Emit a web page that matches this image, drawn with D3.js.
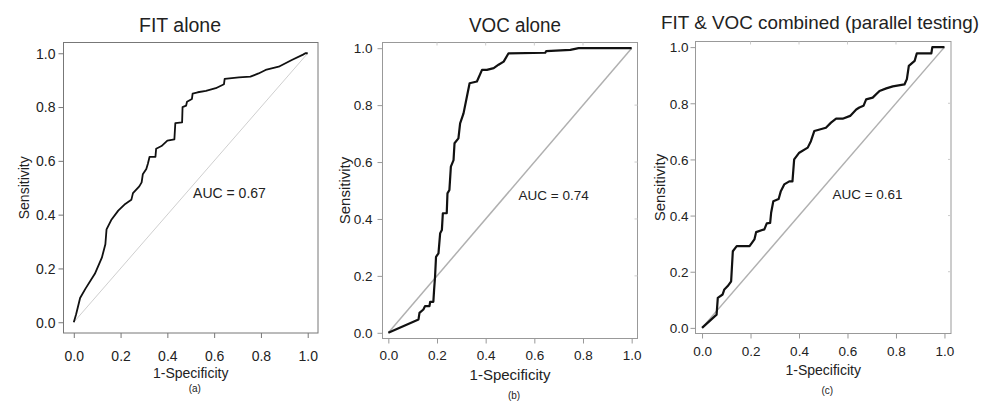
<!DOCTYPE html>
<html>
<head>
<meta charset="utf-8">
<script src="https://cdn.jsdelivr.net/npm/d3@7"></script>
<style>
  body { margin: 0; background: #fff; }
  svg text { font-family: "Liberation Sans", Arial, sans-serif; fill: #222; }
</style>
</head>
<body>
<svg id="chart" width="992" height="401"></svg>
<script>
/// Data

var tickValues = [0, 0.2, 0.4, 0.6, 0.8, 1.0];
var titles = ["FIT alone", "VOC alone", "FIT & VOC combined (parallel testing)"];
var aucLabels = ["AUC = 0.67", "AUC = 0.74", "AUC = 0.61"];
var panelTags = ["(a)", "(b)", "(c)"];

// FIT alone
var fitX = [0, 0.01, 0.027, 0.05, 0.09, 0.12, 0.135, 0.14, 0.16, 0.19, 0.22, 0.246, 0.253, 0.28, 0.29, 0.295, 0.31, 0.317,
  0.324, 0.349, 0.352, 0.375, 0.40, 0.43, 0.434, 0.463, 0.465, 0.48, 0.484, 0.505, 0.508, 0.53, 0.565, 0.607, 0.642, 0.645,
  0.706, 0.755, 0.79, 0.82, 0.876, 0.932, 0.98, 0.99, 1.0];
var fitY = [0, 0.03, 0.09, 0.125, 0.18, 0.24, 0.29, 0.345, 0.38, 0.415, 0.44, 0.455, 0.48, 0.505, 0.52, 0.55, 0.57, 0.59,
  0.615, 0.615, 0.645, 0.655, 0.675, 0.68, 0.74, 0.743, 0.80, 0.805, 0.82, 0.83, 0.85, 0.855, 0.86, 0.87, 0.885, 0.905,
  0.91, 0.913, 0.925, 0.938, 0.95, 0.975, 0.995, 1.0, 1.0];

// VOC alone
var vocX = [0, 0.124, 0.128, 0.144, 0.151, 0.169, 0.172, 0.185, 0.188, 0.192, 0.196, 0.206, 0.213, 0.22, 0.224, 0.24,
  0.243, 0.251, 0.257, 0.268, 0.272, 0.288, 0.295, 0.309, 0.323, 0.334, 0.364, 0.385, 0.405, 0.433, 0.453, 0.474, 0.494,
  0.645, 0.649, 0.748, 0.782, 1.0];
var vocY = [0, 0.047, 0.07, 0.082, 0.094, 0.094, 0.109, 0.109, 0.15, 0.197, 0.267, 0.279, 0.35, 0.361, 0.42, 0.42,
  0.49, 0.502, 0.584, 0.607, 0.666, 0.683, 0.736, 0.771, 0.83, 0.877, 0.883, 0.924, 0.924, 0.93, 0.942, 0.953, 0.982,
  0.984, 0.99, 0.994, 1.0, 1.0];

// FIT & VOC combined
var combX = [0, 0.06, 0.065, 0.085, 0.092, 0.106, 0.12, 0.127, 0.143, 0.196, 0.216, 0.223, 0.257, 0.267, 0.281, 0.285,
  0.294, 0.316, 0.325, 0.339, 0.36, 0.373, 0.38, 0.401, 0.436, 0.449, 0.463, 0.511, 0.532, 0.553, 0.58, 0.611, 0.636,
  0.649, 0.666, 0.677, 0.704, 0.732, 0.76, 0.787, 0.835, 0.845, 0.853, 0.877, 0.886, 0.946, 0.95, 1.0];
var combY = [0, 0.047, 0.107, 0.119, 0.137, 0.149, 0.166, 0.273, 0.291, 0.291, 0.315, 0.341, 0.351, 0.372, 0.374, 0.41,
  0.451, 0.459, 0.487, 0.511, 0.522, 0.522, 0.6, 0.624, 0.642, 0.665, 0.701, 0.713, 0.731, 0.745, 0.745, 0.755, 0.778,
  0.785, 0.791, 0.814, 0.82, 0.844, 0.853, 0.86, 0.867, 0.886, 0.933, 0.951, 0.978, 0.978, 1.0, 1.0];

var seriesX = [fitX, vocX, combX];
var seriesY = [fitY, vocY, combY];

/// Layout of the three panels

var panels = [
  { left: 63.5, top: 42.5, right: 318, bottom: 333, padX: 0.044, padY: 0.04,
    titleX: 180, titleY: 32, titleSize: 20, titleLen: 82,
    frame: "#777", diag: "#cfcfcf", diagW: 1, lineW: 1.8, innerTicks: false,
    yLabGap: 8, xLabY: 357, xTitleY: 378, xTitleSize: 14, yTitleX: 29, yTitleSize: 14,
    aucX: 0.51, aucY: 0.48, aucSize: 14, tagY: 392, tickSize: 14 },
  { left: 382.5, top: 42.5, right: 637.5, bottom: 338.5, padX: 0.024, padY: 0.02,
    titleX: 515, titleY: 32, titleSize: 20, titleLen: 92,
    frame: "#999", diag: "#b0b0b0", diagW: 1.5, lineW: 2.2, innerTicks: true,
    yLabGap: 10, xLabY: 356, xTitleY: 380, xTitleSize: 15, yTitleX: 350, yTitleSize: 15,
    aucX: 0.535, aucY: 0.484, aucSize: 13.5, tagY: 399, tickSize: 13.5 },
  { left: 695.5, top: 41.5, right: 951, bottom: 333.5, padX: 0.027, padY: 0.02,
    titleX: 820, titleY: 29, titleSize: 19, titleLen: 318,
    frame: "#999", diag: "#b0b0b0", diagW: 1.5, lineW: 2.2, innerTicks: true,
    yLabGap: 7, xLabY: 352, xTitleY: 375, xTitleSize: 14, yTitleX: 665, yTitleSize: 15,
    aucX: 0.538, aucY: 0.475, aucSize: 13.5, tagY: 394, tickSize: 13.5 }
];

var svg = d3.select("#chart");
var fmt = d3.format(".1f");

panels.forEach(function (p, i) {
  var x = d3.scaleLinear().domain([-p.padX, 1 + p.padX]).range([p.left, p.right]);
  var y = d3.scaleLinear().domain([-p.padY, 1 + p.padY]).range([p.bottom, p.top]);
  var g = svg.append("g");

  // diagonal reference line
  g.append("line")
    .attr("x1", x(0)).attr("y1", y(0))
    .attr("x2", x(1)).attr("y2", y(1))
    .attr("stroke", p.diag).attr("stroke-width", p.diagW);

  // ROC curve
  var pts = d3.zip(seriesX[i], seriesY[i]);
  var line = d3.line().x(function (d) { return x(d[0]); }).y(function (d) { return y(d[1]); });
  g.append("path")
    .attr("d", line(pts))
    .attr("fill", "none")
    .attr("stroke", "#111")
    .attr("stroke-width", p.lineW)
    .attr("stroke-linejoin", "round");

  // frame
  g.append("rect")
    .attr("x", p.left).attr("y", p.top)
    .attr("width", p.right - p.left).attr("height", p.bottom - p.top)
    .attr("fill", "none").attr("stroke", p.frame).attr("stroke-width", 1);

  // axes
  var xAxis = d3.axisBottom(x).tickValues(tickValues).tickSize(5).tickFormat(fmt);
  var yAxis = d3.axisLeft(y).tickValues(tickValues).tickSize(5).tickFormat(fmt);
  var ga = g.append("g").attr("transform", "translate(0," + p.bottom + ")").call(xAxis);
  var gb = g.append("g").attr("transform", "translate(" + p.left + ",0)").call(yAxis);
  [ga, gb].forEach(function (a) {
    a.select(".domain").remove();
    a.selectAll(".tick line").attr("stroke", p.frame);
    a.selectAll(".tick text")
      .style("font-family", "'Liberation Sans', Arial, sans-serif")
      .style("font-size", p.tickSize + "px")
      .attr("fill", "#333");
  });
  ga.selectAll(".tick text").attr("y", null).attr("dy", null)
    .attr("transform", "translate(0," + (p.xLabY - p.bottom) + ")")
    .attr("dominant-baseline", "middle");
  gb.selectAll(".tick text").attr("x", -p.yLabGap).attr("dy", "0.35em");

  if (p.innerTicks) {
    g.append("g").selectAll("line").data(tickValues.slice(1, 5)).join("line")
      .attr("x1", function (d) { return x(d); }).attr("x2", function (d) { return x(d); })
      .attr("y1", p.top).attr("y2", p.top + 3)
      .attr("stroke", "#ccc");
    g.append("g").selectAll("line").data(tickValues.slice(1, 5)).join("line")
      .attr("y1", function (d) { return y(d); }).attr("y2", function (d) { return y(d); })
      .attr("x1", p.right).attr("x2", p.right - 3)
      .attr("stroke", "#ccc");
  }

  // texts
  g.append("text")
    .attr("x", p.titleX).attr("y", p.titleY)
    .attr("text-anchor", "middle")
    .attr("textLength", p.titleLen).attr("lengthAdjust", "spacingAndGlyphs")
    .style("font-size", p.titleSize + "px")
    .text(titles[i]);

  g.append("text")
    .attr("x", (x(0) + x(1)) / 2).attr("y", p.xTitleY)
    .attr("text-anchor", "middle")
    .style("font-size", p.xTitleSize + "px")
    .text("1-Specificity");

  g.append("text")
    .attr("transform", "translate(" + p.yTitleX + "," + ((y(0) + y(1)) / 2) + ") rotate(-90)")
    .attr("text-anchor", "middle")
    .style("font-size", p.yTitleSize + "px")
    .text("Sensitivity");

  g.append("text")
    .attr("x", x(p.aucX)).attr("y", y(p.aucY))
    .attr("dy", "0.35em")
    .style("font-size", p.aucSize + "px")
    .text(aucLabels[i]);

  g.append("text")
    .attr("x", (x(0) + x(1)) / 2 + 4).attr("y", p.tagY)
    .attr("text-anchor", "middle")
    .style("font-size", "10px")
    .text(panelTags[i]);
});
</script>
</body>
</html>
